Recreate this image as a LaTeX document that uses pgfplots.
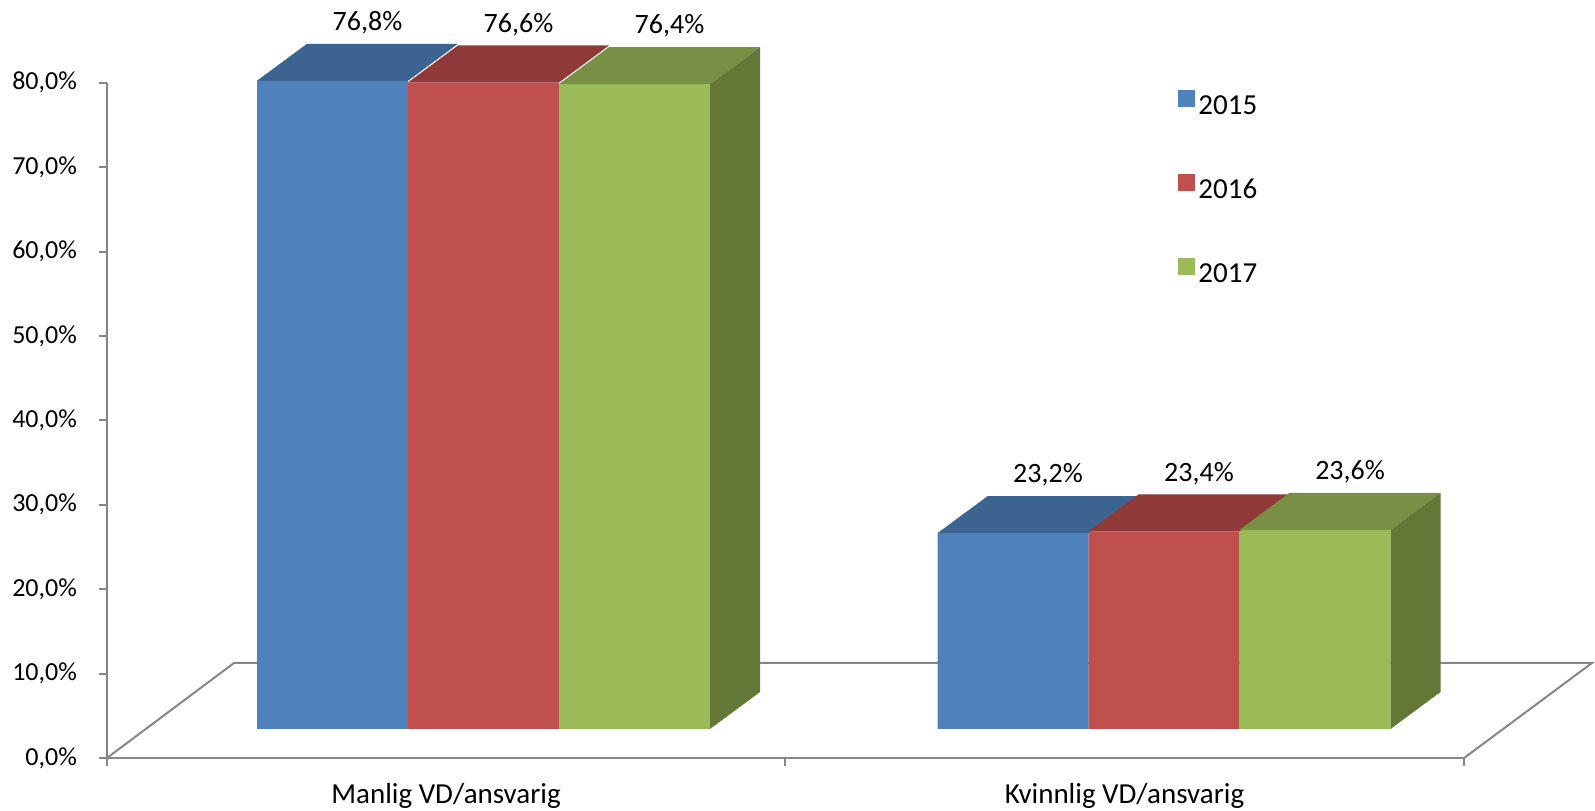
\documentclass[border=0pt]{standalone}
\usepackage{pgfplots}
\pgfplotsset{compat=1.18}
\usepackage{pgfplotstable}
\usepackage{fontspec}
\setmainfont{Carlito}

\definecolor{axisgray}{HTML}{868686}
\definecolor{blueF}{HTML}{4F81BD}
\definecolor{blueT}{HTML}{3D6391}
\definecolor{redF}{HTML}{C0504D}
\definecolor{redT}{HTML}{8F3A38}
\definecolor{greenF}{HTML}{9BBB59}
\definecolor{greenT}{HTML}{788F45}
\definecolor{greenS}{HTML}{637837}

% 1px of the reference = 0.5pt; bar front 151px wide, depth 50px x 37px
\pgfdeclareplotmark{topface}{%
  \pgfpathmoveto{\pgfpoint{-37.75pt}{0pt}}%
  \pgfpathlineto{\pgfpoint{37.75pt}{0pt}}%
  \pgfpathlineto{\pgfpoint{62.75pt}{18.5pt}}%
  \pgfpathlineto{\pgfpoint{-12.75pt}{18.5pt}}%
  \pgfpathclose\pgfusepathqfill}
\pgfdeclareplotmark{sideface}{%
  \pgfmathsetlengthmacro\hh{\barh*4.22pt}%
  \pgfpathmoveto{\pgfpoint{37.75pt}{0pt}}%
  \pgfpathlineto{\pgfpoint{62.75pt}{18.5pt}}%
  \pgfpathlineto{\pgfpoint{62.75pt}{18.5pt-\hh}}%
  \pgfpathlineto{\pgfpoint{37.75pt}{-\hh}}%
  \pgfpathclose\pgfusepathqfill}

\pgfplotstableread{
x y2015 y2016 y2017
0 76.8  76.6  76.4
1 23.2  23.4  23.6
}\data

\begin{document}
\begin{tikzpicture}[font=\fontsize{13}{15}\selectfont]
\begin{axis}[
  x=340.25pt, y=4.22pt,
  xmin=-0.5533, xmax=1.4409,
  ymin=-3.436, ymax=76.564,
  axis x line=bottom, axis y line=left,
  axis line style={-, axisgray, line width=1pt},
  clip=false,
  tick align=outside,
  major tick length=4pt,
  tick style={axisgray, line width=1pt},
  ytick={-3.436,6.564,16.564,26.564,36.564,46.564,56.564,66.564,76.564},
  yticklabels={{0,0\%},{10,0\%},{20,0\%},{30,0\%},{40,0\%},{50,0\%},{60,0\%},{70,0\%},{80,0\%}},
  yticklabel style={xshift=-7.5pt},
  xtick={-0.5532,0.4431,1.4408},
  xticklabels={},
  extra x ticks={-0.055,0.942},
  extra x tick labels={Manlig VD/ansvarig,Kvinnlig VD/ansvarig},
  extra x tick style={major tick length=0pt,
    xticklabel style={yshift=-9pt, font=\fontsize{14.5}{17}\selectfont}},
  /pgf/number format/assume math mode=true,
  legend style={at={(axis cs:1.0206,75.72)}, anchor=north west, draw=none, fill=none,
    row sep=27pt, inner sep=0pt, nodes={inner sep=1.5pt},
    font=\fontsize{14.5}{17}\selectfont},
  legend cell align=left,
  mybar/.style={ybar, bar width=75.5pt, bar shift=#1, draw=none,
    legend image code/.code={\fill[##1,draw=none] (0pt,-0.5pt) rectangle (8.5pt,8pt);},
    nodes near coords={\pgfmathprintnumber[fixed,fixed zerofill,precision=1,use comma]{\pgfplotspointmeta}\%},
    point meta=rawy,
    every node near coord/.append style={anchor=center, xshift={#1+17.5pt}, yshift=29pt,
      text=black, font=\fontsize{14}{16}\selectfont}},
]
% floor
\addplot[axisgray, line width=1pt, forget plot] coordinates {(-0.5533,-3.436) (-0.3666,7.82) (1.6289,7.82) (1.4409,-3.436)};

\addplot[mybar=-75.5pt, fill=blueF] table[x=x,y=y2015]{\data};
\addlegendentry{2015}
\addplot[mybar=0pt, fill=redF] table[x=x,y=y2016]{\data};
\addlegendentry{2016}
\addplot[mybar=75.5pt, fill=greenF] table[x=x,y=y2017]{\data};
\addlegendentry{2017}

% 3D faces
\addplot[only marks, mark=topface, blueT, xshift=-75.5pt, forget plot] table[x=x,y=y2015]{\data};
\addplot[only marks, mark=topface, redT, forget plot] table[x=x,y=y2016]{\data};
\addplot[only marks, mark=topface, greenT, xshift=75.5pt, forget plot] table[x=x,y=y2017]{\data};
\addplot[only marks, mark=sideface, greenS, xshift=75.5pt, forget plot,
  visualization depends on={rawy \as \barh}] table[x=x,y=y2017]{\data};

\coordinate (BL) at (axis cs:-0.7105,-9.716);
\coordinate (TR) at (axis cs:1.6333,86.37);
\end{axis}
\pgfresetboundingbox
\path (BL) rectangle (TR);
\end{tikzpicture}
\end{document}
